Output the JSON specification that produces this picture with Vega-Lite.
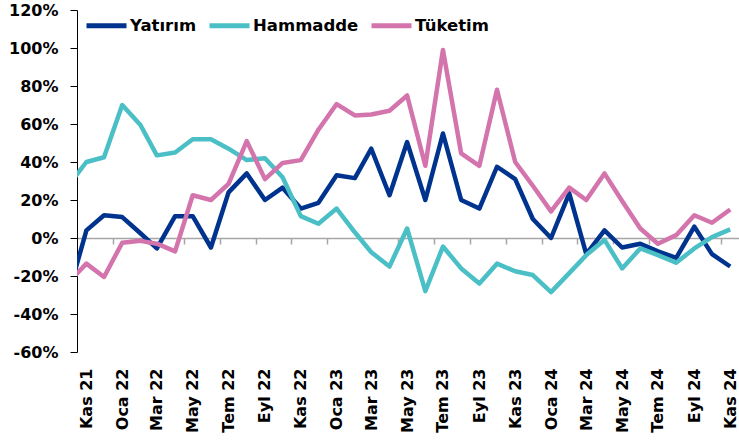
{
  "$schema": "https://vega.github.io/schema/vega-lite/v6.json",
  "width": 662,
  "height": 342,
  "autosize": {"type": "none"},
  "padding": {"left": 77, "top": 10, "right": 0, "bottom": 91},
  "background": "white",
  "config": {
    "view": {"stroke": null},
    "font": "DejaVu Sans",
    "axis": {"grid": false, "labelFont": "DejaVu Sans", "labelFontWeight": "bold", "labelFontSize": 16, "labelColor": "#000000"},
    "legend": {"labelFont": "DejaVu Sans", "labelFontWeight": "bold", "labelFontSize": 16.5, "labelColor": "#000000"}
  },
  "data": {
    "values": [
      {"d":"2021-10-01","s":"Yatırım","v":-30},{"d":"2021-11-01","s":"Yatırım","v":4},{"d":"2021-12-01","s":"Yatırım","v":12},{"d":"2022-01-01","s":"Yatırım","v":11},{"d":"2022-02-01","s":"Yatırım","v":2.5},{"d":"2022-03-01","s":"Yatırım","v":-5.5},{"d":"2022-04-01","s":"Yatırım","v":11.5},{"d":"2022-05-01","s":"Yatırım","v":11.5},{"d":"2022-06-01","s":"Yatırım","v":-5},{"d":"2022-07-01","s":"Yatırım","v":24},{"d":"2022-08-01","s":"Yatırım","v":34},{"d":"2022-09-01","s":"Yatırım","v":20},{"d":"2022-10-01","s":"Yatırım","v":26.5},{"d":"2022-11-01","s":"Yatırım","v":15.5},{"d":"2022-12-01","s":"Yatırım","v":18.5},{"d":"2023-01-01","s":"Yatırım","v":33},{"d":"2023-02-01","s":"Yatırım","v":31.5},{"d":"2023-03-01","s":"Yatırım","v":47},{"d":"2023-04-01","s":"Yatırım","v":22.5},{"d":"2023-05-01","s":"Yatırım","v":50.5},{"d":"2023-06-01","s":"Yatırım","v":20},{"d":"2023-07-01","s":"Yatırım","v":55},{"d":"2023-08-01","s":"Yatırım","v":20},{"d":"2023-09-01","s":"Yatırım","v":15.5},{"d":"2023-10-01","s":"Yatırım","v":37.5},{"d":"2023-11-01","s":"Yatırım","v":31},{"d":"2023-12-01","s":"Yatırım","v":10},{"d":"2024-01-01","s":"Yatırım","v":0},{"d":"2024-02-01","s":"Yatırım","v":23.5},{"d":"2024-03-01","s":"Yatırım","v":-8.5},{"d":"2024-04-01","s":"Yatırım","v":4},{"d":"2024-05-01","s":"Yatırım","v":-5},{"d":"2024-06-01","s":"Yatırım","v":-3},{"d":"2024-07-01","s":"Yatırım","v":-7},{"d":"2024-08-01","s":"Yatırım","v":-10.5},{"d":"2024-09-01","s":"Yatırım","v":6},{"d":"2024-10-01","s":"Yatırım","v":-8.5},{"d":"2024-11-01","s":"Yatırım","v":-15},
      {"d":"2021-10-01","s":"Hammadde","v":27.5},{"d":"2021-11-01","s":"Hammadde","v":40},{"d":"2021-12-01","s":"Hammadde","v":42.5},{"d":"2022-01-01","s":"Hammadde","v":70},{"d":"2022-02-01","s":"Hammadde","v":59.5},{"d":"2022-03-01","s":"Hammadde","v":43.5},{"d":"2022-04-01","s":"Hammadde","v":45},{"d":"2022-05-01","s":"Hammadde","v":52},{"d":"2022-06-01","s":"Hammadde","v":52},{"d":"2022-07-01","s":"Hammadde","v":47},{"d":"2022-08-01","s":"Hammadde","v":41},{"d":"2022-09-01","s":"Hammadde","v":42},{"d":"2022-10-01","s":"Hammadde","v":32},{"d":"2022-11-01","s":"Hammadde","v":11.5},{"d":"2022-12-01","s":"Hammadde","v":7.5},{"d":"2023-01-01","s":"Hammadde","v":15.5},{"d":"2023-02-01","s":"Hammadde","v":3},{"d":"2023-03-01","s":"Hammadde","v":-7.5},{"d":"2023-04-01","s":"Hammadde","v":-15},{"d":"2023-05-01","s":"Hammadde","v":5},{"d":"2023-06-01","s":"Hammadde","v":-28},{"d":"2023-07-01","s":"Hammadde","v":-4.5},{"d":"2023-08-01","s":"Hammadde","v":-16},{"d":"2023-09-01","s":"Hammadde","v":-24},{"d":"2023-10-01","s":"Hammadde","v":-13.5},{"d":"2023-11-01","s":"Hammadde","v":-17.5},{"d":"2023-12-01","s":"Hammadde","v":-19.5},{"d":"2024-01-01","s":"Hammadde","v":-28.5},{"d":"2024-02-01","s":"Hammadde","v":-18.5},{"d":"2024-03-01","s":"Hammadde","v":-9},{"d":"2024-04-01","s":"Hammadde","v":-1},{"d":"2024-05-01","s":"Hammadde","v":-16},{"d":"2024-06-01","s":"Hammadde","v":-5.5},{"d":"2024-07-01","s":"Hammadde","v":-9},{"d":"2024-08-01","s":"Hammadde","v":-13},{"d":"2024-09-01","s":"Hammadde","v":-5.5},{"d":"2024-10-01","s":"Hammadde","v":0.5},{"d":"2024-11-01","s":"Hammadde","v":4.5},
      {"d":"2021-10-01","s":"Tüketim","v":-23.5},{"d":"2021-11-01","s":"Tüketim","v":-13.5},{"d":"2021-12-01","s":"Tüketim","v":-20.5},{"d":"2022-01-01","s":"Tüketim","v":-2.5},{"d":"2022-02-01","s":"Tüketim","v":-1.5},{"d":"2022-03-01","s":"Tüketim","v":-3},{"d":"2022-04-01","s":"Tüketim","v":-7},{"d":"2022-05-01","s":"Tüketim","v":22.5},{"d":"2022-06-01","s":"Tüketim","v":20},{"d":"2022-07-01","s":"Tüketim","v":28.5},{"d":"2022-08-01","s":"Tüketim","v":51},{"d":"2022-09-01","s":"Tüketim","v":31},{"d":"2022-10-01","s":"Tüketim","v":39.5},{"d":"2022-11-01","s":"Tüketim","v":41},{"d":"2022-12-01","s":"Tüketim","v":57},{"d":"2023-01-01","s":"Tüketim","v":70.5},{"d":"2023-02-01","s":"Tüketim","v":64.5},{"d":"2023-03-01","s":"Tüketim","v":65},{"d":"2023-04-01","s":"Tüketim","v":67},{"d":"2023-05-01","s":"Tüketim","v":75},{"d":"2023-06-01","s":"Tüketim","v":38},{"d":"2023-07-01","s":"Tüketim","v":99},{"d":"2023-08-01","s":"Tüketim","v":44.5},{"d":"2023-09-01","s":"Tüketim","v":38},{"d":"2023-10-01","s":"Tüketim","v":78},{"d":"2023-11-01","s":"Tüketim","v":40},{"d":"2023-12-01","s":"Tüketim","v":27.5},{"d":"2024-01-01","s":"Tüketim","v":14},{"d":"2024-02-01","s":"Tüketim","v":26.5},{"d":"2024-03-01","s":"Tüketim","v":20},{"d":"2024-04-01","s":"Tüketim","v":34},{"d":"2024-05-01","s":"Tüketim","v":19.5},{"d":"2024-06-01","s":"Tüketim","v":5},{"d":"2024-07-01","s":"Tüketim","v":-3},{"d":"2024-08-01","s":"Tüketim","v":1.5},{"d":"2024-09-01","s":"Tüketim","v":12},{"d":"2024-10-01","s":"Tüketim","v":8},{"d":"2024-11-01","s":"Tüketim","v":15}
    ]
  },
  "resolve": {"axis": {"x": "independent"}},
  "layer": [
    {
      "mark": {"type": "line", "opacity": 0, "clip": true},
      "encoding": {
        "x": {
          "field": "d", "type": "temporal",
          "scale": {"type": "utc", "domain": [{"year": 2021, "month": 10, "date": 16, "utc": true}, {"year": 2024, "month": 11, "date": 16, "utc": true}]},
          "axis": {
            "orient": "bottom", "offset": -114, "title": null, "labels": false,
            "domain": true, "domainColor": "#A6A6A6", "domainWidth": 1.5,
            "ticks": true, "tickColor": "#A6A6A6", "tickSize": 6, "tickWidth": 1.5,
            "values": [
              {"year":2021,"month":12,"date":16,"utc":true},{"year":2022,"month":2,"date":14,"utc":true},{"year":2022,"month":4,"date":16,"utc":true},{"year":2022,"month":6,"date":16,"utc":true},{"year":2022,"month":8,"date":16,"utc":true},{"year":2022,"month":10,"date":16,"utc":true},{"year":2022,"month":12,"date":16,"utc":true},{"year":2023,"month":2,"date":14,"utc":true},{"year":2023,"month":4,"date":16,"utc":true},{"year":2023,"month":6,"date":16,"utc":true},{"year":2023,"month":8,"date":16,"utc":true},{"year":2023,"month":10,"date":16,"utc":true},{"year":2023,"month":12,"date":16,"utc":true},{"year":2024,"month":2,"date":15,"utc":true},{"year":2024,"month":4,"date":16,"utc":true},{"year":2024,"month":6,"date":16,"utc":true},{"year":2024,"month":8,"date":16,"utc":true},{"year":2024,"month":10,"date":16,"utc":true}
            ]
          }
        },
        "y": {
          "field": "v", "type": "quantitative",
          "scale": {"domain": [-60, 120], "nice": false},
          "axis": {
            "title": null, "values": [-60,-40,-20,0,20,40,60,80,100,120],
            "labelExpr": "datum.value + '%'",
            "labelOverlap": false, "labelBound": false, "labelFlush": false,
            "domainColor": "#000000", "domainWidth": 1,
            "tickColor": "#000000", "tickSize": 7, "tickWidth": 1, "labelPadding": 12
          }
        },
        "detail": {"field": "s"}
      }
    },
    {
      "mark": {"type": "line", "strokeWidth": 4.5, "clip": true, "strokeJoin": "round", "strokeCap": "butt"},
      "encoding": {
        "x": {
          "field": "d", "type": "temporal",
          "axis": {
            "orient": "bottom", "title": null, "domain": false, "ticks": false,
            "tickCount": {"interval": "month", "step": 2},
            "labelAngle": -90, "labelAlign": "right", "labelBaseline": "middle", "labelPadding": 16,
            "labelExpr": "['Oca','Şub','Mar','Nis','May','Haz','Tem','Ağu','Eyl','Eki','Kas','Ara'][utcmonth(datum.value)] + ' ' + utcFormat(datum.value, '%y')",
            "labelOverlap": false, "labelBound": false, "labelFlush": false
          }
        },
        "y": {
          "field": "v", "type": "quantitative",
          "scale": {"domain": [-60, 120], "nice": false},
          "axis": {
            "title": null, "values": [-60,-40,-20,0,20,40,60,80,100,120],
            "labelExpr": "datum.value + '%'",
            "labelOverlap": false, "labelBound": false, "labelFlush": false,
            "domainColor": "#000000", "domainWidth": 1,
            "tickColor": "#000000", "tickSize": 7, "tickWidth": 1, "labelPadding": 12
          }
        },
        "color": {
          "field": "s", "type": "nominal",
          "scale": {"domain": ["Yatırım", "Hammadde", "Tüketim"], "range": ["#00338D", "#4BBFC6", "#D474AC"]},
          "legend": {
            "title": null, "orient": "none", "direction": "horizontal",
            "legendX": 7, "legendY": -7, "padding": 0,
            "symbolType": "stroke", "symbolSize": 1600, "symbolStrokeWidth": 5,
            "labelOffset": 1, "columnPadding": 2
          }
        }
      }
    }
  ]
}
